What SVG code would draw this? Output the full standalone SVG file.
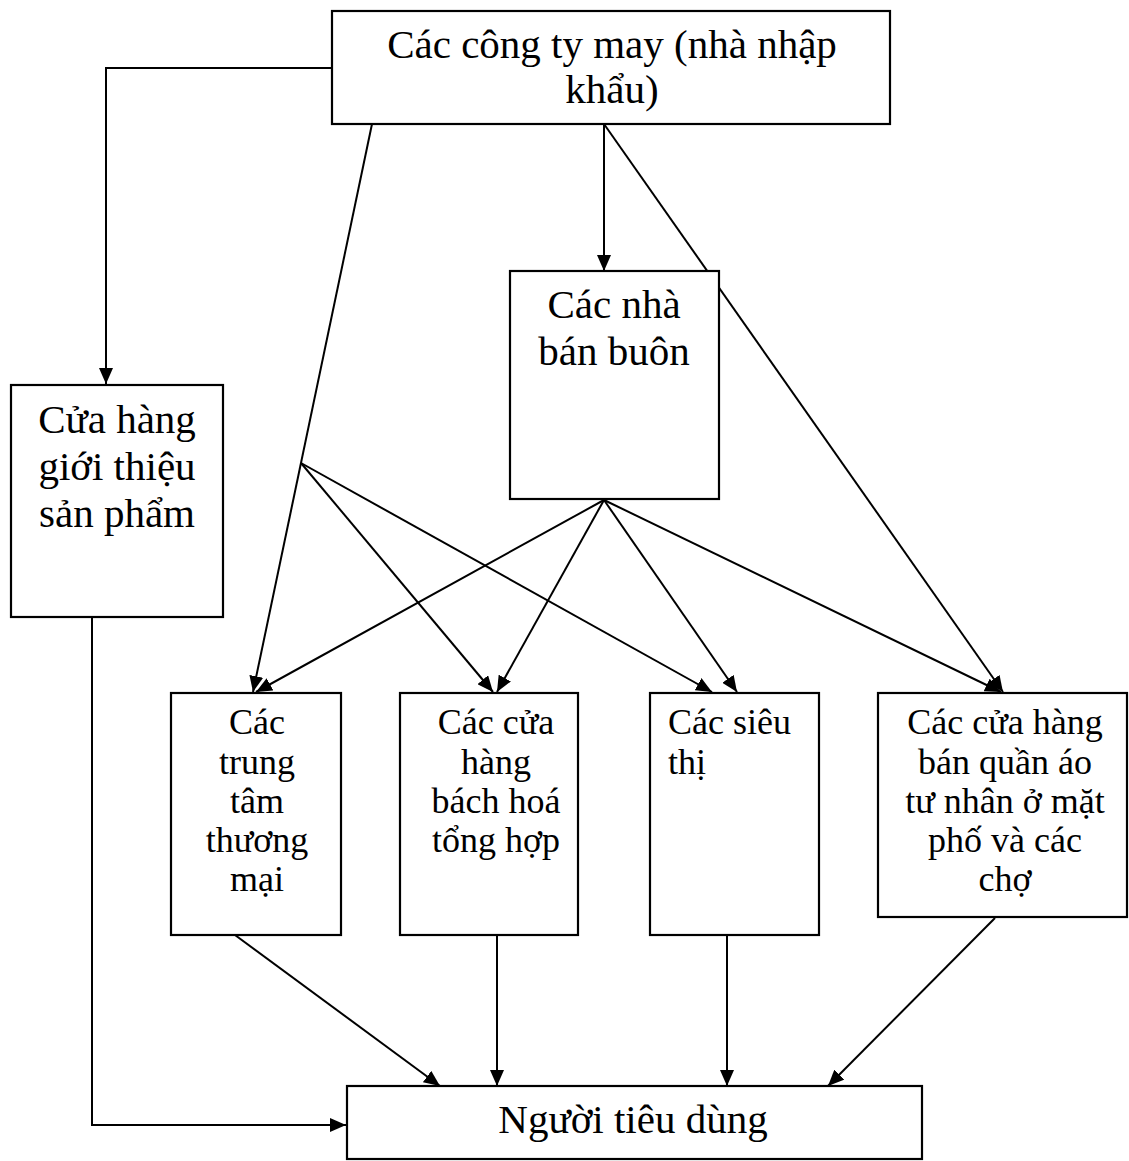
<svg xmlns="http://www.w3.org/2000/svg" width="1129" height="1161" viewBox="0 0 1129 1161">
  <style>
    .box { fill: #ffffff; stroke: #000000; stroke-width: 2.2; }
    .lbl { font-family: "Liberation Serif", "Times New Roman", serif; fill: #000000; text-anchor: middle; }
    .big { font-size: 41px; }
    .mid { font-size: 36px; }
    .left { text-anchor: start; }
    .edge { fill: none; stroke: #000000; stroke-width: 2; }
  </style>
  <defs>
    <marker id="arrow" markerUnits="userSpaceOnUse" markerWidth="18" markerHeight="14" refX="16" refY="7" orient="auto">
      <path d="M0,0 L16,7 L0,14 Z" fill="#000000"/>
    </marker>
  </defs>
  <rect width="1129" height="1161" fill="#ffffff"/>

  <!-- connectors -->
  <g id="connectors" class="edge" marker-end="url(#arrow)">
    <polyline points="332,68 106,68 106,384"/>
    <line x1="372" y1="124" x2="253" y2="692"/>
    <line x1="604" y1="124" x2="604" y2="271"/>
    <line x1="604" y1="124" x2="1003" y2="692"/>
    <line x1="301" y1="463" x2="493" y2="692"/>
    <line x1="301" y1="463" x2="712" y2="692"/>
    <line x1="604" y1="500" x2="256" y2="692"/>
    <line x1="604" y1="500" x2="497" y2="692"/>
    <line x1="604" y1="500" x2="737" y2="692"/>
    <line x1="604" y1="500" x2="1001" y2="692"/>
    <line x1="235" y1="935" x2="440" y2="1086"/>
    <line x1="497" y1="935" x2="497" y2="1086"/>
    <line x1="727" y1="935" x2="727" y2="1086"/>
    <line x1="995" y1="918" x2="828" y2="1086"/>
    <polyline points="92,617 92,1125 346,1125"/>
  </g>

  <!-- garment companies (importers) -->
  <g id="node-importers">
    <rect class="box" x="332" y="11" width="558" height="113"/>
    <text class="lbl big" x="612" y="58">Các công ty may (nhà nhập</text>
    <text class="lbl big" x="612" y="103">khẩu)</text>
  </g>

  <!-- showroom -->
  <g id="node-showroom">
    <rect class="box" x="11" y="385" width="212" height="232"/>
    <text class="lbl big" x="117" y="433">Cửa hàng</text>
    <text class="lbl big" x="117" y="480">giới thiệu</text>
    <text class="lbl big" x="117" y="527">sản phẩm</text>
  </g>

  <!-- wholesalers -->
  <g id="node-wholesalers">
    <rect class="box" x="510" y="271" width="209" height="228"/>
    <text class="lbl big" x="614" y="318">Các nhà</text>
    <text class="lbl big" x="614" y="365">bán buôn</text>
  </g>

  <!-- shopping centres -->
  <g id="node-malls">
    <rect class="box" x="171" y="693" width="170" height="242"/>
    <text class="lbl mid" x="257" y="734">Các</text>
    <text class="lbl mid" x="257" y="774">trung</text>
    <text class="lbl mid" x="257" y="813">tâm</text>
    <text class="lbl mid" x="257" y="852">thương</text>
    <text class="lbl mid" x="257" y="891">mại</text>
  </g>

  <!-- department stores -->
  <g id="node-department">
    <rect class="box" x="400" y="693" width="178" height="242"/>
    <text class="lbl mid" x="496" y="734">Các cửa</text>
    <text class="lbl mid" x="496" y="774">hàng</text>
    <text class="lbl mid" x="496" y="813">bách hoá</text>
    <text class="lbl mid" x="496" y="852">tổng hợp</text>
  </g>

  <!-- supermarkets -->
  <g id="node-supermarkets">
    <rect class="box" x="650" y="693" width="169" height="242"/>
    <text class="lbl mid left" x="668" y="734">Các siêu</text>
    <text class="lbl mid left" x="668" y="774">thị</text>
  </g>

  <!-- private clothing shops -->
  <g id="node-private-shops">
    <rect class="box" x="878" y="693" width="249" height="224"/>
    <text class="lbl mid" x="1005" y="734">Các cửa hàng</text>
    <text class="lbl mid" x="1005" y="774">bán quần áo</text>
    <text class="lbl mid" x="1005" y="813">tư nhân ở mặt</text>
    <text class="lbl mid" x="1005" y="852">phố và các</text>
    <text class="lbl mid" x="1005" y="891">chợ</text>
  </g>

  <!-- consumers -->
  <g id="node-consumers">
    <rect class="box" x="347" y="1086" width="575" height="73"/>
    <text class="lbl big" x="633" y="1133">Người tiêu dùng</text>
  </g>
</svg>
